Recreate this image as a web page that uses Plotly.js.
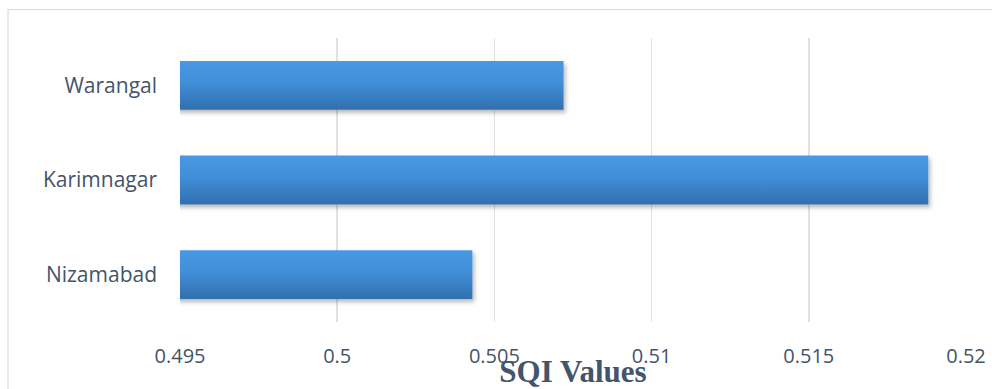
<!DOCTYPE html>
<html>
<head>
<meta charset="utf-8">
<script src="https://cdn.plot.ly/plotly-3.0.1.min.js"></script>
<style>html,body{margin:0;padding:0;background:#fff;}#chart{width:992px;height:389px;}</style>
</head>
<body>
<div id="chart"></div>
<script>
const districts = ["Nizamabad", "Karimnagar", "Warangal"];
const sqiValues = [0.5043, 0.5188, 0.5072];
const tickValues = [0.495, 0.5, 0.505, 0.51, 0.515, 0.52];
const tickLabels = ["0.495", "0.5", "0.505", "0.51", "0.515", "0.52"];
const axisTitle = "SQI Values";

const labelColor = "#44546A";
const trace = {
  type: "bar",
  orientation: "h",
  y: districts,
  x: sqiValues,
  marker: {color: "#3d86d0", line: {width: 0}},
  hoverinfo: "x+y"
};

const layout = {
  width: 992, height: 389,
  margin: {l: 180, r: 26, t: 38, b: 67},
  paper_bgcolor: "#ffffff",
  plot_bgcolor: "#ffffff",
  showlegend: false,
  bargap: 0.485,
  font: {family: "Open Sans, sans-serif", color: labelColor, size: 20},
  xaxis: {
    range: [0.495, 0.52],
    tickvals: tickValues,
    ticktext: tickLabels,
    showgrid: true,
    gridcolor: "#dde2e8",
    gridwidth: 1.5,
    zeroline: false,
    showline: false,
    ticks: "",
    ticklabelstandoff: 20,
    tickfont: {family: "Open Sans, sans-serif", size: 20, color: labelColor},
    automargin: false,
    title: {text: axisTitle, font: {family: "Liberation Serif, Times New Roman, serif", size: 31, color: labelColor, weight: "bold"}, standoff: 0}
  },
  yaxis: {
    showgrid: false,
    zeroline: false,
    showline: false,
    ticks: "",
    ticklabelstandoff: 22,
    tickfont: {family: "Open Sans, sans-serif", size: 21, color: labelColor},
    automargin: false
  },
  shapes: [{
    type: "rect", xref: "paper", yref: "paper",
    x0: (8 - 180) / 786, x1: 1.05, y0: -0.3, y1: (322 - 9.5) / 284,
    line: {color: "#d9dde2", width: 1.2}, fillcolor: "rgba(0,0,0,0)", layer: "below"
  }]
};

Plotly.newPlot("chart", [trace], layout, {displayModeBar: false, staticPlot: true}).then(function (gd) {
  const svg = gd.querySelector("svg.main-svg");
  const ns = "http://www.w3.org/2000/svg";
  let defs = svg.querySelector("defs");
  if (!defs) { defs = document.createElementNS(ns, "defs"); svg.insertBefore(defs, svg.firstChild); }
  const grad = document.createElementNS(ns, "linearGradient");
  grad.setAttribute("id", "barGrad");
  grad.setAttribute("x1", "0"); grad.setAttribute("y1", "0");
  grad.setAttribute("x2", "0"); grad.setAttribute("y2", "1");
  [["0", "#4799e6"], ["0.45", "#418ed8"], ["1", "#316fb0"]].forEach(function (s) {
    const st = document.createElementNS(ns, "stop");
    st.setAttribute("offset", s[0]); st.setAttribute("stop-color", s[1]);
    grad.appendChild(st);
  });
  defs.appendChild(grad);
  const filt = document.createElementNS(ns, "filter");
  filt.setAttribute("id", "barShadow");
  filt.setAttribute("x", "-5%"); filt.setAttribute("y", "-20%");
  filt.setAttribute("width", "115%"); filt.setAttribute("height", "160%");
  const ds = document.createElementNS(ns, "feDropShadow");
  ds.setAttribute("dx", "2"); ds.setAttribute("dy", "3");
  ds.setAttribute("stdDeviation", "2");
  ds.setAttribute("flood-color", "#000"); ds.setAttribute("flood-opacity", "0.28");
  filt.appendChild(ds);
  defs.appendChild(filt);
  gd.querySelectorAll(".barlayer .point path").forEach(function (p) {
    p.style.fill = "url(#barGrad)";
    p.setAttribute("filter", "url(#barShadow)");
  });
});
</script>
</body>
</html>
